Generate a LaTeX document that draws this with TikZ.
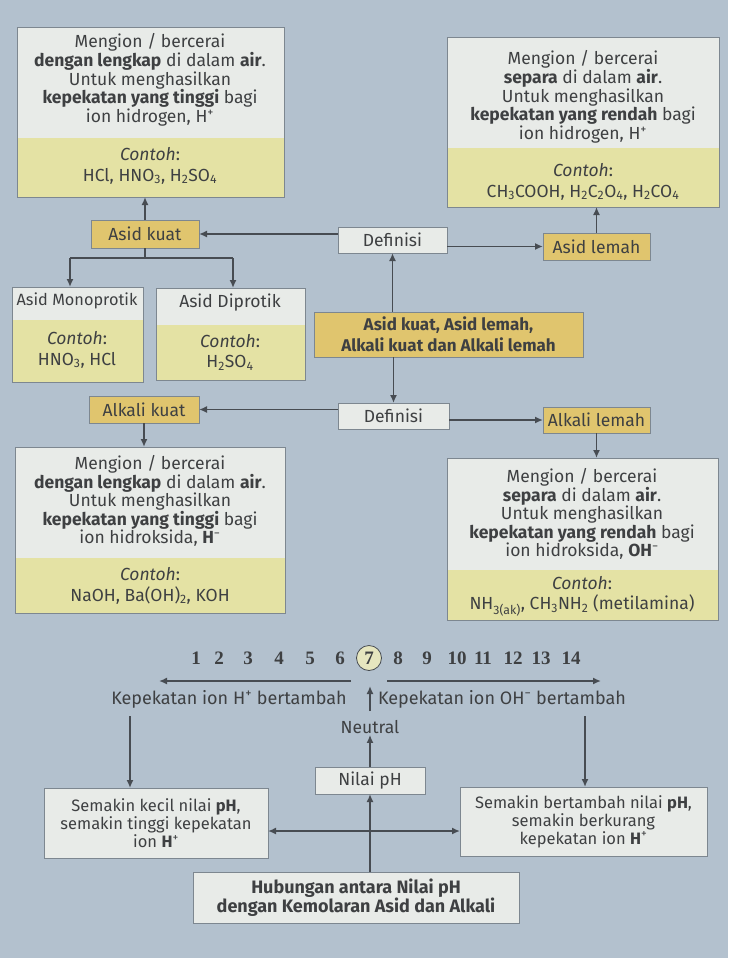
\documentclass[tikz,border=0pt]{standalone}
\usepackage{fontspec}
\setmainfont{Fira Sans}
\newfontfamily\numfont{Liberation Serif}
\usetikzlibrary{arrows.meta}
\definecolor{bg}{HTML}{B3C1CE}
\definecolor{boxw}{HTML}{E8EBE8}
\definecolor{boxy}{HTML}{E4E2A4}
\definecolor{boxo}{HTML}{E0C56E}
\definecolor{ln}{HTML}{474C52}
\definecolor{bd}{HTML}{7D8790}
\definecolor{tx}{HTML}{3E4042}
\begin{document}
\begin{tikzpicture}[x=1pt,y=-1pt,
  frame/.style={draw=bd,line width=0.9pt,inner sep=0pt,outer sep=0pt,anchor=north west,text=tx,
     font=\fontsize{17.5}{18}\selectfont,align=center},
  wbox/.style={frame,fill=boxw},
  obox/.style={frame,fill=boxo},
  txt/.style={align=center,text=tx,font=\fontsize{17.5}{18.6}\selectfont,inner sep=0pt},
  ctxt/.style={align=center,text=tx,font=\fontsize{17.5}{20.5}\selectfont,inner sep=0pt},
  num/.style={text=tx,font=\numfont\bfseries\fontsize{19}{20}\selectfont,inner sep=0pt},
  arr/.style={draw=ln,line width=1.6pt,-{Latex[length=8pt,width=7pt]}},
  darr/.style={draw=ln,line width=1.6pt,{Latex[length=8pt,width=7pt]}-{Latex[length=8pt,width=7pt]}},
  plain/.style={draw=ln,line width=1.6pt}
]
\useasboundingbox (0,0) rectangle (728,958);
\fill[bg] (0,0) rectangle (728,958);

% ---------- top-left box
\node[wbox,minimum width=267pt,minimum height=170pt] (tl) at (17,27) {};
\fill[boxy] (tl.west |- 0,138) rectangle (tl.south east);
\draw[bd,line width=0.9pt] (tl.north west) rectangle (tl.south east);
\node[txt] (tlt) at (150,80) {Mengion / bercerai\\ \textbf{dengan lengkap} di dalam \textbf{air}.\\ Untuk menghasilkan\\ \textbf{kepekatan yang tinggi} bagi\\ ion hidrogen, H\textsuperscript{+}};
\node[ctxt] (tlc) at (150,166) {\textit{Contoh}:\\ HCl, HNO\textsubscript{3}, H\textsubscript{2}SO\textsubscript{4}};

% ---------- top-right box
\node[wbox,minimum width=272pt,minimum height=170pt] (tr) at (447,37) {};
\fill[boxy] (tr.west |- 0,148) rectangle (tr.south east);
\draw[bd,line width=0.9pt] (tr.north west) rectangle (tr.south east);
\node[txt] (trt) at (583,97) {Mengion / bercerai\\ \textbf{separa} di dalam \textbf{air}.\\ Untuk menghasilkan\\ \textbf{kepekatan yang rendah} bagi\\ ion hidrogen, H\textsuperscript{+}};
\node[ctxt] (trc) at (583,182) {\textit{Contoh}:\\ CH\textsubscript{3}COOH, H\textsubscript{2}C\textsubscript{2}O\textsubscript{4}, H\textsubscript{2}CO\textsubscript{4}};

% ---------- labels row 1
\node[wbox,minimum width=109pt,minimum height=26pt] (def1) at (338,227) {Definisi};
\node[obox,minimum width=108pt,minimum height=28pt] (kuat) at (91,220) {Asid kuat};
\node[obox,minimum width=107pt,minimum height=27pt] (lemah) at (543,233) {Asid lemah};

% ---------- mono / di
\node[wbox,minimum width=131pt,minimum height=95pt] (mono) at (12,287) {};
\fill[boxy] (mono.west |- 0,320) rectangle (mono.south east);
\draw[bd,line width=0.9pt] (mono.north west) rectangle (mono.south east);
\node[txt,font=\fontsize{16.3}{18}\selectfont] (monot) at (77,301) {Asid Monoprotik};
\node[ctxt] (monoc) at (77,350) {\textit{Contoh}:\\ HNO\textsubscript{3}, HCl};

\node[wbox,minimum width=149pt,minimum height=92pt] (di) at (156,288) {};
\fill[boxy] (di.west |- 0,325) rectangle (di.south east);
\draw[bd,line width=0.9pt] (di.north west) rectangle (di.south east);
\node[txt] (dit) at (230,303) {Asid Diprotik};
\node[ctxt] (dic) at (230,352) {\textit{Contoh}:\\ H\textsubscript{2}SO\textsubscript{4}};

% ---------- title
\node[obox,minimum width=269pt,minimum height=45pt,font=\bfseries\fontsize{17}{21}\selectfont] (title) at (314,312) {Asid kuat, Asid lemah,\\ Alkali kuat dan Alkali lemah};

% ---------- labels row 2
\node[wbox,minimum width=111pt,minimum height=26pt] (def2) at (338,403) {Definisi};
\node[obox,minimum width=110pt,minimum height=27pt] (akuat) at (89,396) {Alkali kuat};
\node[obox,minimum width=107pt,minimum height=26pt] (alemah) at (543,407) {Alkali lemah};

% ---------- bottom-left box (alkali kuat)
\node[wbox,minimum width=270pt,minimum height=166pt] (bl) at (15,447) {};
\fill[boxy] (bl.west |- 0,558) rectangle (bl.south east);
\draw[bd,line width=0.9pt] (bl.north west) rectangle (bl.south east);
\node[txt] (blt) at (150,501) {Mengion / bercerai\\ \textbf{dengan lengkap} di dalam \textbf{air}.\\ Untuk menghasilkan\\ \textbf{kepekatan yang tinggi} bagi\\ ion hidroksida, \textbf{H}\textsuperscript{−}};
\node[ctxt] (blc) at (150,586) {\textit{Contoh}:\\ NaOH, Ba(OH)\textsubscript{2}, KOH};

% ---------- bottom-right box (alkali lemah)
\node[wbox,minimum width=271pt,minimum height=162pt] (br) at (447,458) {};
\fill[boxy] (br.west |- 0,570) rectangle (br.south east);
\draw[bd,line width=0.9pt] (br.north west) rectangle (br.south east);
\node[txt] (brt) at (582,514) {Mengion / bercerai\\ \textbf{separa} di dalam \textbf{air}.\\ Untuk menghasilkan\\ \textbf{kepekatan yang rendah} bagi\\ ion hidroksida, \textbf{OH}\textsuperscript{−}};
\node[ctxt] (brc) at (582,596) {\textit{Contoh}:\\ NH\textsubscript{3(ak)}, CH\textsubscript{3}NH\textsubscript{2} (metilamina)};

% ---------- connectors top half
\draw[arr] (kuat.north) -- (kuat.north |- tl.south);
\draw[arr] (def1.west |- kuat.east) -- (kuat.east);
\draw[arr] (def1.east |- lemah.west) -- (lemah.west);
\draw[arr] (lemah.north) -- (lemah.north |- tr.south);
\draw[arr] (title.north -| def1.south) -- (def1.south);
\draw[arr] (title.south -| def2.north) -- (def2.north);
\coordinate (ml) at (70,258);
\coordinate (mr) at (233,258);
\draw[plain] (kuat.south) -- (kuat.south |- ml);
\draw[plain] (ml) -- (mr);
\draw[arr] (ml) -- (ml |- mono.north);
\draw[arr] (mr) -- (mr |- di.north);
\draw[arr] (def2.west |- akuat.east) -- (akuat.east);
\draw[arr] (def2.east |- alemah.west) -- (alemah.west);
\draw[arr] (akuat.south) -- (akuat.south |- bl.north);
\draw[arr] (alemah.south) -- (alemah.south |- br.north);

% ---------- pH scale
\node[num] (n1) at (196,658) {1};
\node[num] (n2) at (219,658) {2};
\node[num] (n3) at (248,658) {3};
\node[num] (n4) at (279,658) {4};
\node[num] (n5) at (310,658) {5};
\node[num] (n6) at (340,658) {6};
\node[num,circle,draw=ln,line width=0.8pt,fill=boxy!60!boxw,minimum size=25pt] (n7) at (369,658) {7};
\node[num] (n8) at (398,658) {8};
\node[num] (n9) at (427,658) {9};
\node[num] (n10) at (457,658) {10};
\node[num] (n11) at (483,658) {11};
\node[num] (n12) at (513,658) {12};
\node[num] (n13) at (541,658) {13};
\node[num] (n14) at (571,658) {14};

\coordinate (la) at (351,681);
\coordinate (lb) at (159,681);
\coordinate (ra) at (387,681);
\coordinate (rb) at (601,681);
\draw[arr] (la) -- (lb);
\draw[arr] (ra) -- (rb);

\node[txt,font=\fontsize{18}{19}\selectfont] (kh) at (229,699) {Kepekatan ion H\textsuperscript{+} bertambah};
\node[txt,font=\fontsize{18}{19}\selectfont] (ko) at (502,699) {Kepekatan ion OH\textsuperscript{−} bertambah};
\coordinate (ua) at (370,711);
\coordinate (ub) at (370,686);
\draw[arr] (ua) -- (ub);
\node[txt] (neutral) at (370,727) {Neutral};

% ---------- bottom section
\node[wbox,minimum width=110pt,minimum height=27pt] (nilai) at (315,767) {Nilai pH};
\node[wbox,minimum width=224pt,minimum height=70pt,font=\fontsize{16.5}{18}\selectfont] (lbox) at (44,788) {Semakin kecil nilai \textbf{pH},\\ semakin tinggi kepekatan\\ ion \textbf{H}\textsuperscript{+}};
\node[wbox,minimum width=247pt,minimum height=69pt,font=\fontsize{16.5}{18}\selectfont] (rbox) at (460,787) {Semakin bertambah nilai \textbf{pH},\\ semakin berkurang\\ kepekatan ion \textbf{H}\textsuperscript{+}};
\node[wbox,minimum width=326pt,minimum height=51pt,font=\bfseries\fontsize{18}{19}\selectfont] (bot) at (193,872) {Hubungan antara Nilai pH\\ dengan Kemolaran Asid dan Alkali};

\draw[arr] (nilai.north) -- ([yshift=-1pt]neutral.south);
\draw[arr] (bot.north -| nilai.south) -- (nilai.south);
\coordinate (hc) at (370,831);
\draw[darr] (lbox.east |- hc) -- (rbox.west |- hc);
\coordinate (lv) at (130,716);
\coordinate (rv) at (585,716);
\draw[arr] (lv) -- (lv |- lbox.north);
\draw[arr] (rv) -- (rv |- rbox.north);
\end{tikzpicture}
\end{document}
